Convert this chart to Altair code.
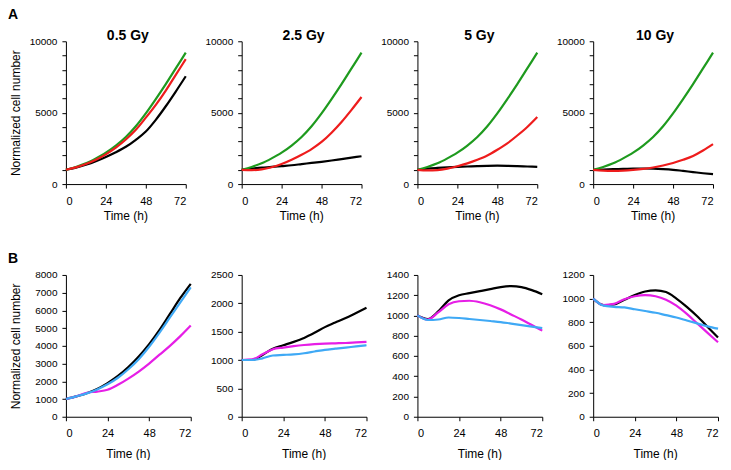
import altair as alt
import pandas as pd

FONT = "Liberation Sans"

hours = [0, 6, 12, 18, 24, 30, 36, 42, 48, 54, 60, 66, 72]

# ---- Row A (0-10000 scale): green, red, black ----
a_titles = ["0.5 Gy", "2.5 Gy", "5 Gy", "10 Gy"]
x_title = "Time (h)"
y_title = "Normalized cell number"

a1_green = [1000, 1200, 1450, 1800, 2200, 2700, 3300, 4050, 4950, 5950, 7000, 8100, 9200]
a1_red = [1000, 1170, 1400, 1700, 2080, 2550, 3120, 3800, 4650, 5550, 6550, 7650, 8750]
a1_black = [1000, 1150, 1350, 1600, 1900, 2230, 2610, 3100, 3680, 4500, 5450, 6480, 7550]

a2_green = [1000, 1200, 1450, 1800, 2200, 2700, 3300, 4050, 4950, 5950, 7000, 8100, 9200]
a2_red = [1000, 980, 1030, 1180, 1400, 1700, 2050, 2450, 2950, 3600, 4350, 5200, 6100]
a2_black = [1000, 1080, 1150, 1200, 1260, 1320, 1400, 1480, 1560, 1650, 1750, 1850, 1950]

a3_green = [1000, 1200, 1450, 1800, 2200, 2700, 3300, 4050, 4950, 5950, 7000, 8100, 9200]
a3_red = [1000, 960, 980, 1080, 1250, 1450, 1700, 2000, 2400, 2850, 3400, 4000, 4700]
a3_black = [1000, 1080, 1130, 1170, 1200, 1230, 1260, 1280, 1290, 1280, 1260, 1230, 1200]

a4_green = [1000, 1200, 1450, 1800, 2200, 2700, 3300, 4050, 4950, 5950, 7000, 8100, 9200]
a4_red = [1000, 940, 920, 940, 990, 1060, 1160, 1300, 1480, 1700, 1970, 2350, 2800]
a4_black = [1000, 1020, 1040, 1060, 1080, 1090, 1080, 1050, 1000, 920, 840, 760, 690]

# ---- Row B (own scales): black, magenta, blue ----
b1_black = [1000, 1150, 1330, 1570, 1900, 2300, 2800, 3400, 4100, 4900, 5800, 6700, 7500]
b1_magenta = [1000, 1150, 1350, 1420, 1520, 1800, 2150, 2550, 3000, 3500, 4000, 4550, 5150]
b1_blue = [1000, 1150, 1320, 1540, 1830, 2200, 2680, 3250, 3950, 4750, 5600, 6450, 7300]

b2_black = [1000, 1000, 1090, 1200, 1260, 1320, 1390, 1480, 1580, 1660, 1740, 1830, 1920]
b2_magenta = [1000, 1010, 1100, 1190, 1220, 1245, 1265, 1280, 1290, 1295, 1300, 1310, 1320]
b2_blue = [1000, 1000, 1030, 1080, 1090, 1100, 1120, 1150, 1180, 1200, 1220, 1240, 1260]

b3_black = [1000, 965, 1040, 1150, 1200, 1220, 1240, 1260, 1280, 1290, 1280, 1250, 1210]
b3_magenta = [1000, 960, 1030, 1110, 1140, 1145, 1130, 1100, 1060, 1010, 960, 905, 850]
b3_blue = [1000, 955, 960, 980, 975, 965, 955, 945, 935, 920, 905, 890, 875]

b4_black = [1000, 945, 950, 990, 1030, 1060, 1070, 1055, 1000, 930, 850, 760, 670]
b4_magenta = [1000, 945, 955, 995, 1020, 1030, 1020, 990, 940, 870, 790, 710, 630]
b4_blue = [1000, 940, 930, 925, 910, 895, 880, 860, 840, 815, 790, 765, 745]

b_domains = [[0, 8000], [0, 2500], [0, 1400], [0, 1200]]
b_steps = [1000, 500, 200, 200]

SERIES = ["1black", "2green", "3red", "4magenta", "5blue"]
SERIES_COLORS = ["#000000", "#1e9a1e", "#ee1c1c", "#e61ee6", "#3fa9f5"]

A_W, A_H = 120, 143
B_W, B_H = 125, 142


def make_df(series):
    rows = []
    for name, vals in series:
        for t, v in zip(hours, vals):
            rows.append({"series": name, "t": t, "v": v})
    return pd.DataFrame(rows)


def text_layer(txt, x, y, align, baseline, size, weight="bold"):
    tdf = pd.DataFrame({"l": [txt]})
    return (alt.Chart(tdf)
            .mark_text(align=align, baseline=baseline, fontSize=size,
                       fontWeight=weight, font=FONT, color="black")
            .encode(text="l:N", x=alt.value(x), y=alt.value(y)))


def panel(series, ydomain, yvalues, label_expr, width, height, ytitle,
          xtitle_dy, title=None, letter=None):
    df = make_df(series)
    x = alt.X("t:Q", scale=alt.Scale(domain=[0, 72]),
              axis=alt.Axis(values=[0, 24, 48, 72], title="",
                            labelFontSize=11, labelPadding=7))
    yaxis_kw = dict(values=yvalues, title=ytitle, format="d",
                    labelFontSize=10, labelPadding=5,
                    titleX=-50, titleBaseline="middle")
    if label_expr:
        yaxis_kw["labelExpr"] = label_expr
    y = alt.Y("v:Q", scale=alt.Scale(domain=ydomain),
              axis=alt.Axis(**yaxis_kw))
    color = alt.Color("series:N",
                      scale=alt.Scale(domain=SERIES, range=SERIES_COLORS),
                      legend=None)
    lines = (alt.Chart(df)
             .mark_line(strokeWidth=2.2, interpolate="monotone")
             .encode(x=x, y=y, color=color,
                     order=alt.Order("t:Q")))
    layers = [lines,
              text_layer(x_title, width / 2, height + xtitle_dy, "center",
                         "top", 12, "normal")]
    if title:
        layers.append(text_layer(title, width / 2 + 2, -1, "center",
                                 "alphabetic", 14))
    if letter:
        layers.append(text_layer(letter[0], letter[1], letter[2], "left",
                                 "top", 14))
    return alt.layer(*layers).properties(width=width, height=height)


a_series = [
    [("1black", a1_black), ("2green", a1_green), ("3red", a1_red)],
    [("1black", a2_black), ("2green", a2_green), ("3red", a2_red)],
    [("1black", a3_black), ("2green", a3_green), ("3red", a3_red)],
    [("1black", a4_black), ("2green", a4_green), ("3red", a4_red)],
]
b_series = [
    [("1black", b1_black), ("4magenta", b1_magenta), ("5blue", b1_blue)],
    [("1black", b2_black), ("4magenta", b2_magenta), ("5blue", b2_blue)],
    [("1black", b3_black), ("4magenta", b3_magenta), ("5blue", b3_blue)],
    [("1black", b4_black), ("4magenta", b4_magenta), ("5blue", b4_blue)],
]

panels = []
for i in range(4):
    panels.append(panel(
        a_series[i], [0, 10000], list(range(0, 10001, 1000)),
        "datum.value % 5000 == 0 ? datum.label : ''",
        A_W, A_H, y_title if i == 0 else "",
        27, title=a_titles[i],
        letter=("A", -58, -33) if i == 0 else None))
for i in range(4):
    lo, hi = b_domains[i]
    panels.append(panel(
        b_series[i], b_domains[i], list(range(lo, hi + 1, b_steps[i])),
        None, B_W, B_H, y_title if i == 0 else "",
        32, letter=("B", -58, -23) if i == 0 else None))

chart = alt.concat(*panels, columns=4).properties(
    spacing=alt.RowColnumber(row=91, column=51),
    bounds="flush",
    padding=0,
).configure_view(strokeWidth=0).configure_axis(
    grid=False, domainColor="black", tickColor="black", tickSize=4,
    labelColor="black", titleColor="black", labelFont=FONT, titleFont=FONT,
    titleFontSize=12, titleFontWeight="normal", domainWidth=1, tickWidth=1,
)

chart.save("out.html", embed_options={"renderer": "svg", "actions": False})
